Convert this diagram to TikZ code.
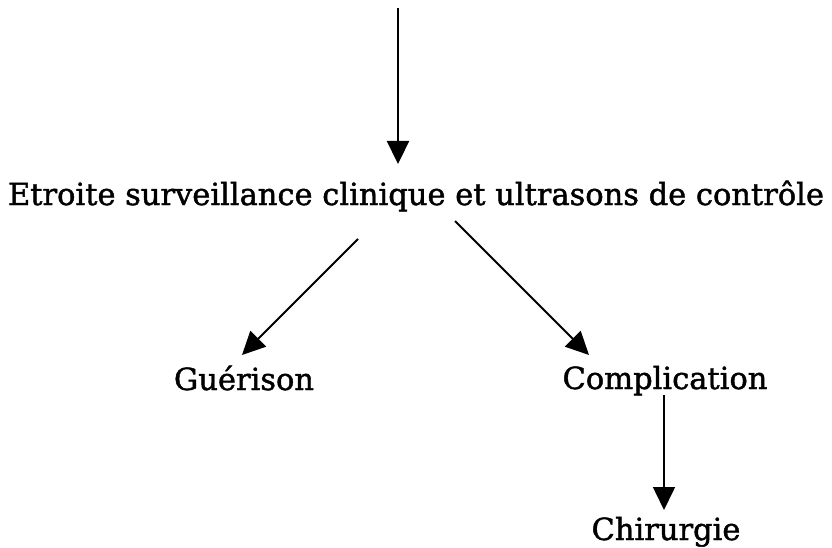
\documentclass[tikz,border=0pt]{standalone}
\usepackage{fontspec}
\setmainfont{DejaVu Serif}[FakeBold=1.4]
\usetikzlibrary{arrows.meta}
\tikzset{
  lbl/.style={inner sep=0pt, anchor=base, font=\fontsize{30.5}{34}\selectfont},
  arr/.style={-{Triangle[length=23pt,width=22pt]}, line width=1.9pt},
}
\begin{document}
\begin{tikzpicture}[x=1pt,y=-1pt]
\useasboundingbox (0,0) rectangle (832,548);
\coordinate (src) at (398,8);
\node[lbl] (main) at (416,205) {Etroite surveillance clinique et ultrasons de contrôle};
\node[lbl] (gue) at (244,390) {Guérison};
\node[lbl] (comp) at (665,389) {Complication};
\node[lbl] (chir) at (666,540) {Chirurgie};
\coordinate (l0) at (358,239);
\coordinate (r0) at (455,221);
\coordinate (c0) at (664,395);
\coordinate (lt) at (242,355);
\coordinate (rt) at (589,355);
\coordinate (ct) at (664,510);
\coordinate (mt) at (398,164);
\draw[arr, line width=2.3pt] (src) -- (mt);
\draw[arr] (l0) -- (lt);
\draw[arr] (r0) -- (rt);
\draw[arr, line width=1.6pt] (c0) -- (ct);
\end{tikzpicture}
\end{document}
